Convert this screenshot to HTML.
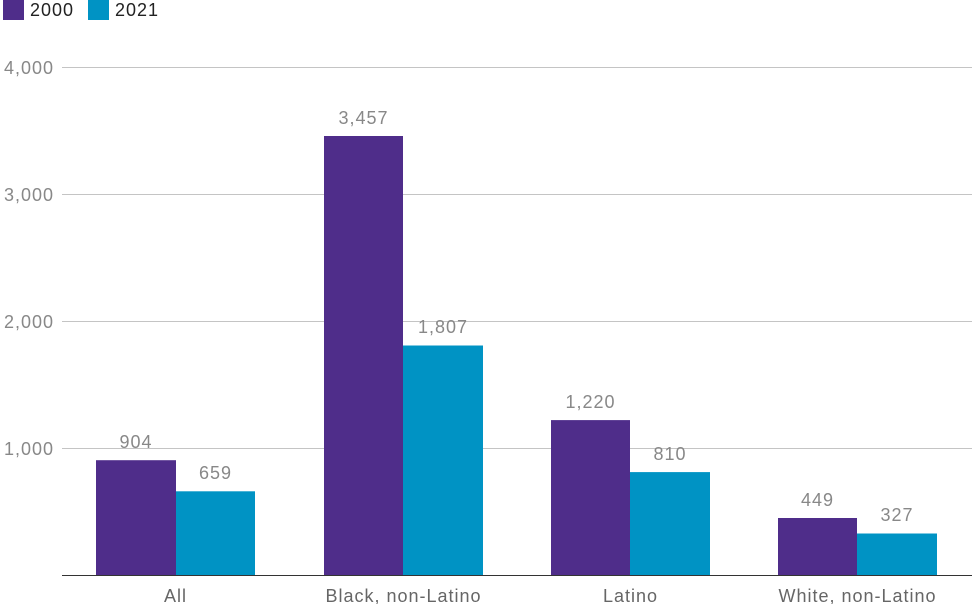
<!DOCTYPE html>
<html><head><meta charset="utf-8"><style>
html,body{margin:0;padding:0;background:#fff;}
svg{display:block;font-family:"Liberation Sans",Arial,sans-serif;}
text{letter-spacing:1px;}
</style></head><body>
<svg width="972" height="604" viewBox="0 0 972 604" xmlns="http://www.w3.org/2000/svg">
<rect x="3" y="0" width="21" height="20" fill="#4f2d8a"/>
<text x="30" y="16" font-size="18" fill="#222">2000</text>
<rect x="88" y="0" width="21" height="20" fill="#0093c4"/>
<text x="115" y="16" font-size="18" fill="#222">2021</text>
<g stroke="#c4c4c4" stroke-width="1">
<line x1="62" y1="67.5" x2="972" y2="67.5"/>
<line x1="62" y1="194.5" x2="972" y2="194.5"/>
<line x1="62" y1="321.5" x2="972" y2="321.5"/>
<line x1="62" y1="448.5" x2="972" y2="448.5"/>
</g>
<g font-size="18" fill="#888">
<text x="4" y="74">4,000</text>
<text x="4" y="201">3,000</text>
<text x="4" y="328">2,000</text>
<text x="4" y="455">1,000</text>
</g>
<g>
<rect x="96" y="460.2" width="80" height="114.8" fill="#4f2d8a"/>
<rect x="176" y="491.3" width="79" height="83.7" fill="#0093c4"/>
<rect x="324" y="136" width="79" height="439" fill="#4f2d8a"/>
<rect x="403" y="345.5" width="80" height="229.5" fill="#0093c4"/>
<rect x="551" y="420.1" width="79" height="154.9" fill="#4f2d8a"/>
<rect x="630" y="472.1" width="80" height="102.9" fill="#0093c4"/>
<rect x="778" y="518" width="79" height="57" fill="#4f2d8a"/>
<rect x="857" y="533.5" width="80" height="41.5" fill="#0093c4"/>
</g>
<line x1="62" y1="575.5" x2="972" y2="575.5" stroke="#333" stroke-width="1"/>
<g font-size="18" fill="#888" text-anchor="middle">
<text x="136" y="448">904</text>
<text x="215.5" y="479">659</text>
<text x="363.5" y="124">3,457</text>
<text x="443" y="333">1,807</text>
<text x="590.5" y="408">1,220</text>
<text x="670" y="460">810</text>
<text x="817.5" y="506">449</text>
<text x="897" y="521">327</text>
</g>
<g font-size="18" fill="#666" text-anchor="middle">
<text x="175.5" y="602">All</text>
<text x="403.5" y="602">Black, non-Latino</text>
<text x="630.5" y="602">Latino</text>
<text x="857.5" y="602">White, non-Latino</text>
</g>
</svg>
</body></html>
